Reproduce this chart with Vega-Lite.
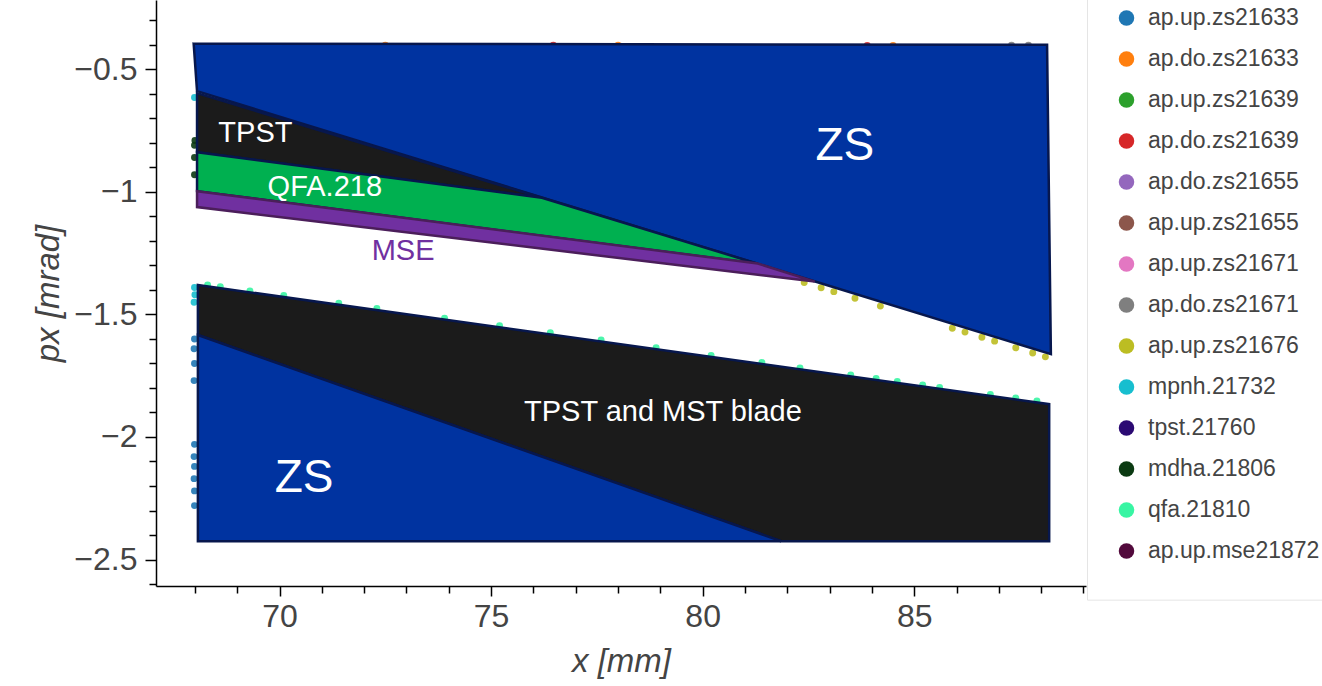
{
  "$schema": "https://vega.github.io/schema/vega-lite/v6.json",
  "width": 930,
  "height": 586,
  "autosize": {"type": "none"},
  "padding": {"left": 156, "top": 0, "right": 236, "bottom": 100},
  "background": "white",
  "config": {"view": {"stroke": null}, "font": "Liberation Sans"},
  "datasets": {
    "points": [
      {"series": "ap.up.zs21633", "x": 67.99, "y": -1.60},
      {"series": "ap.up.zs21633", "x": 67.98, "y": -1.64},
      {"series": "ap.up.zs21633", "x": 67.99, "y": -1.70},
      {"series": "ap.up.zs21633", "x": 67.98, "y": -1.77},
      {"series": "ap.up.zs21633", "x": 67.99, "y": -2.03},
      {"series": "ap.up.zs21633", "x": 67.98, "y": -2.08},
      {"series": "ap.up.zs21633", "x": 67.99, "y": -2.12},
      {"series": "ap.up.zs21633", "x": 67.98, "y": -2.17},
      {"series": "ap.up.zs21633", "x": 67.99, "y": -2.22},
      {"series": "ap.up.zs21633", "x": 67.99, "y": -2.28},
      {"series": "ap.do.zs21633", "x": 72.5, "y": -0.401},
      {"series": "ap.do.zs21633", "x": 78.0, "y": -0.401},
      {"series": "ap.do.zs21633", "x": 84.5, "y": -0.402},
      {"series": "ap.up.zs21639", "x": 72.0, "y": -0.75},
      {"series": "ap.up.zs21639", "x": 76.0, "y": -0.95},
      {"series": "ap.up.zs21639", "x": 80.0, "y": -1.18},
      {"series": "ap.do.zs21639", "x": 76.47, "y": -0.401},
      {"series": "ap.do.zs21639", "x": 83.89, "y": -0.402},
      {"series": "ap.do.zs21655", "x": 75.0, "y": -0.5},
      {"series": "ap.do.zs21655", "x": 82.0, "y": -0.6},
      {"series": "ap.up.zs21655", "x": 72.0, "y": -2.3},
      {"series": "ap.up.zs21655", "x": 75.0, "y": -2.35},
      {"series": "ap.up.zs21671", "x": 85.0, "y": -2.2},
      {"series": "ap.up.zs21671", "x": 87.0, "y": -2.1},
      {"series": "ap.do.zs21671", "x": 87.3, "y": -0.401},
      {"series": "ap.do.zs21671", "x": 87.7, "y": -0.401},
      {"series": "ap.up.zs21676", "x": 82.4, "y": -1.370},
      {"series": "ap.up.zs21676", "x": 82.8, "y": -1.391},
      {"series": "ap.up.zs21676", "x": 83.1, "y": -1.407},
      {"series": "ap.up.zs21676", "x": 83.6, "y": -1.434},
      {"series": "ap.up.zs21676", "x": 84.2, "y": -1.466},
      {"series": "ap.up.zs21676", "x": 85.9, "y": -1.556},
      {"series": "ap.up.zs21676", "x": 86.2, "y": -1.572},
      {"series": "ap.up.zs21676", "x": 86.6, "y": -1.593},
      {"series": "ap.up.zs21676", "x": 86.9, "y": -1.609},
      {"series": "ap.up.zs21676", "x": 87.4, "y": -1.636},
      {"series": "ap.up.zs21676", "x": 87.8, "y": -1.657},
      {"series": "ap.up.zs21676", "x": 88.1, "y": -1.673},
      {"series": "mpnh.21732", "x": 67.99, "y": -0.615},
      {"series": "mpnh.21732", "x": 67.99, "y": -1.39},
      {"series": "mpnh.21732", "x": 68.0, "y": -1.42},
      {"series": "mpnh.21732", "x": 67.98, "y": -1.45},
      {"series": "tpst.21760", "x": 69.5, "y": -0.72},
      {"series": "tpst.21760", "x": 71.0, "y": -0.80},
      {"series": "mdha.21806", "x": 68.0, "y": -0.79},
      {"series": "mdha.21806", "x": 67.99, "y": -0.81},
      {"series": "mdha.21806", "x": 67.99, "y": -0.86},
      {"series": "mdha.21806", "x": 67.99, "y": -0.93},
      {"series": "qfa.21810", "x": 68.3, "y": -1.380},
      {"series": "qfa.21810", "x": 68.6, "y": -1.387},
      {"series": "qfa.21810", "x": 69.3, "y": -1.404},
      {"series": "qfa.21810", "x": 70.1, "y": -1.423},
      {"series": "qfa.21810", "x": 71.4, "y": -1.454},
      {"series": "qfa.21810", "x": 72.3, "y": -1.476},
      {"series": "qfa.21810", "x": 73.9, "y": -1.515},
      {"series": "qfa.21810", "x": 75.2, "y": -1.546},
      {"series": "qfa.21810", "x": 76.4, "y": -1.575},
      {"series": "qfa.21810", "x": 77.6, "y": -1.604},
      {"series": "qfa.21810", "x": 78.9, "y": -1.636},
      {"series": "qfa.21810", "x": 80.2, "y": -1.667},
      {"series": "qfa.21810", "x": 81.4, "y": -1.696},
      {"series": "qfa.21810", "x": 82.3, "y": -1.718},
      {"series": "qfa.21810", "x": 83.5, "y": -1.747},
      {"series": "qfa.21810", "x": 84.1, "y": -1.761},
      {"series": "qfa.21810", "x": 84.6, "y": -1.773},
      {"series": "qfa.21810", "x": 85.2, "y": -1.788},
      {"series": "qfa.21810", "x": 85.6, "y": -1.798},
      {"series": "qfa.21810", "x": 86.8, "y": -1.827},
      {"series": "qfa.21810", "x": 87.4, "y": -1.841},
      {"series": "qfa.21810", "x": 87.9, "y": -1.853},
      {"series": "ap.up.mse21872", "x": 70.0, "y": -1.07},
      {"series": "ap.up.mse21872", "x": 75.0, "y": -1.18}
    ],
    "polygons": [
      {"shape": "ZS upper", "i": 0, "x": 67.97, "y": -0.395},
      {"shape": "ZS upper", "i": 1, "x": 88.14, "y": -0.400},
      {"shape": "ZS upper", "i": 2, "x": 88.23, "y": -1.662},
      {"shape": "ZS upper", "i": 3, "x": 68.05, "y": -0.589},
      {"shape": "TPST", "i": 0, "x": 68.05, "y": -0.597},
      {"shape": "TPST", "i": 1, "x": 76.2, "y": -1.024},
      {"shape": "TPST", "i": 2, "x": 68.05, "y": -0.838},
      {"shape": "QFA.218", "i": 0, "x": 68.05, "y": -0.838},
      {"shape": "QFA.218", "i": 1, "x": 76.2, "y": -1.024},
      {"shape": "QFA.218", "i": 2, "x": 81.3, "y": -1.293},
      {"shape": "QFA.218", "i": 3, "x": 68.05, "y": -0.997},
      {"shape": "MSE", "i": 0, "x": 68.05, "y": -0.997},
      {"shape": "MSE", "i": 1, "x": 81.3, "y": -1.292},
      {"shape": "MSE", "i": 2, "x": 82.65, "y": -1.366},
      {"shape": "MSE", "i": 3, "x": 68.05, "y": -1.062},
      {"shape": "TPST and MST blade", "i": 0, "x": 68.07, "y": -1.380},
      {"shape": "TPST and MST blade", "i": 1, "x": 88.19, "y": -1.866},
      {"shape": "TPST and MST blade", "i": 2, "x": 88.19, "y": -2.425},
      {"shape": "TPST and MST blade", "i": 3, "x": 81.85, "y": -2.425},
      {"shape": "TPST and MST blade", "i": 4, "x": 68.07, "y": -1.584},
      {"shape": "ZS lower", "i": 0, "x": 68.07, "y": -1.584},
      {"shape": "ZS lower", "i": 1, "x": 81.85, "y": -2.425},
      {"shape": "ZS lower", "i": 2, "x": 68.07, "y": -2.425}
    ],
    "labels": [
      {"label": "TPST", "x": 69.43, "y": -0.760},
      {"label": "QFA.218", "x": 71.07, "y": -0.982},
      {"label": "MSE", "x": 72.92, "y": -1.241},
      {"label": "ZS", "x": 83.36, "y": -0.813},
      {"label": "ZS", "x": 70.58, "y": -2.169},
      {"label": "TPST and MST blade", "x": 79.06, "y": -1.898}
    ]
  },
  "layer": [
    {
      "data": {"name": "points"},
      "mark": {"type": "circle", "size": 48, "opacity": 0.9},
      "encoding": {
        "x": {
          "field": "x", "type": "quantitative",
          "scale": {"domain": [67.08, 89.06], "nice": false, "zero": false},
          "axis": {
            "orient": "bottom", "values": [70, 75, 80, 85], "title": "x [mm]",
            "titleFont": "Liberation Sans", "titleFontStyle": "italic", "titleFontWeight": "normal",
            "titleFontSize": 33, "titleColor": "#444", "titlePadding": 13,
            "labelFont": "Liberation Sans", "labelFontSize": 32, "labelColor": "#444", "labelPadding": 5,
            "tickSize": 10, "tickWidth": 1.5, "tickColor": "black",
            "domainColor": "black", "domainWidth": 1.5, "grid": false
          }
        },
        "y": {
          "field": "y", "type": "quantitative",
          "scale": {"domain": [-2.608, -0.217], "nice": false, "zero": false},
          "axis": {
            "orient": "left", "values": [-2.5, -2, -1.5, -1, -0.5], "format": "~f", "title": "px [mrad]",
            "titleFont": "Liberation Sans", "titleFontStyle": "italic", "titleFontWeight": "normal",
            "titleFontSize": 33, "titleColor": "#444", "titlePadding": 8,
            "labelFont": "Liberation Sans", "labelFontSize": 32, "labelColor": "#444", "labelPadding": 8,
            "tickSize": 11, "tickWidth": 1.5, "tickColor": "black",
            "domainColor": "black", "domainWidth": 1.5, "grid": false
          }
        },
        "color": {
          "field": "series", "type": "nominal",
          "scale": {
            "domain": ["ap.up.zs21633", "ap.do.zs21633", "ap.up.zs21639", "ap.do.zs21639", "ap.do.zs21655", "ap.up.zs21655", "ap.up.zs21671", "ap.do.zs21671", "ap.up.zs21676", "mpnh.21732", "tpst.21760", "mdha.21806", "qfa.21810", "ap.up.mse21872"],
            "range": ["#1f77b4", "#ff7f0e", "#2ca02c", "#d62728", "#9467bd", "#8c564b", "#e377c2", "#7f7f7f", "#bcbd22", "#17becf", "#2b0a73", "#0b3a12", "#38f5a3", "#520a3c"]
          },
          "legend": {
            "title": null, "orient": "none", "legendX": 931, "legendY": -30.35,
            "symbolType": "circle", "symbolSize": 240, "symbolStrokeWidth": 0, "symbolOpacity": 1,
            "labelFont": "Liberation Sans", "labelFontSize": 23, "labelColor": "#444", "labelOffset": 10, "labelLimit": 300,
            "clipHeight": 40.7, "rowPadding": 0, "padding": 28, "strokeColor": "#e5e5e5"
          }
        }
      }
    },
    {
      "data": {"name": "polygons"},
      "mark": {"type": "line", "interpolate": "linear-closed", "strokeWidth": 2.5, "strokeJoin": "miter"},
      "encoding": {
        "x": {
          "field": "x", "type": "quantitative",
          "axis": {
            "orient": "bottom", "values": [68, 69, 71, 72, 73, 74, 76, 77, 78, 79, 81, 82, 83, 84, 86, 87, 88, 89],
            "labels": false, "domain": false, "title": null, "grid": false,
            "tickSize": 7, "tickWidth": 1.5, "tickColor": "black"
          }
        },
        "y": {
          "field": "y", "type": "quantitative",
          "axis": {
            "orient": "left", "values": [-2.6, -2.4, -2.3, -2.2, -2.1, -1.9, -1.8, -1.7, -1.6, -1.4, -1.3, -1.2, -1.1, -0.9, -0.8, -0.7, -0.6, -0.4, -0.3],
            "labels": false, "domain": false, "title": null, "grid": false,
            "tickSize": 7, "tickWidth": 1.5, "tickColor": "black"
          }
        },
        "order": {"field": "i", "type": "quantitative"},
        "fill": {
          "field": "shape", "type": "nominal", "legend": null,
          "scale": {
            "domain": ["ZS upper", "TPST", "QFA.218", "MSE", "TPST and MST blade", "ZS lower"],
            "range": ["#0033a0", "#1b1b1b", "#00b050", "#7030a0", "#1b1b1b", "#0033a0"]
          }
        },
        "stroke": {
          "field": "shape", "type": "nominal", "legend": null,
          "scale": {
            "domain": ["ZS upper", "TPST", "QFA.218", "MSE", "TPST and MST blade", "ZS lower"],
            "range": ["#07174d", "#07174d", "#07174d", "#4b1e5a", "#07174d", "#07174d"]
          }
        }
      }
    },
    {
      "data": {"name": "labels"},
      "transform": [{"filter": {"field": "label", "oneOf": ["TPST", "QFA.218", "TPST and MST blade"]}}],
      "mark": {"type": "text", "font": "Liberation Sans", "fontSize": 29, "color": "white", "align": "center", "baseline": "middle"},
      "encoding": {
        "x": {"field": "x", "type": "quantitative", "axis": null},
        "y": {"field": "y", "type": "quantitative", "axis": null},
        "text": {"field": "label"}
      }
    },
    {
      "data": {"name": "labels"},
      "transform": [{"filter": {"field": "label", "equal": "ZS"}}],
      "mark": {"type": "text", "font": "Liberation Sans", "fontSize": 46, "color": "white", "align": "center", "baseline": "middle"},
      "encoding": {
        "x": {"field": "x", "type": "quantitative", "axis": null},
        "y": {"field": "y", "type": "quantitative", "axis": null},
        "text": {"field": "label"}
      }
    },
    {
      "data": {"name": "labels"},
      "transform": [{"filter": {"field": "label", "equal": "MSE"}}],
      "mark": {"type": "text", "font": "Liberation Sans", "fontSize": 29, "color": "#7030a0", "align": "center", "baseline": "middle"},
      "encoding": {
        "x": {"field": "x", "type": "quantitative", "axis": null},
        "y": {"field": "y", "type": "quantitative", "axis": null},
        "text": {"field": "label"}
      }
    }
  ],
  "resolve": {"axis": {"x": "independent", "y": "independent"}}
}
